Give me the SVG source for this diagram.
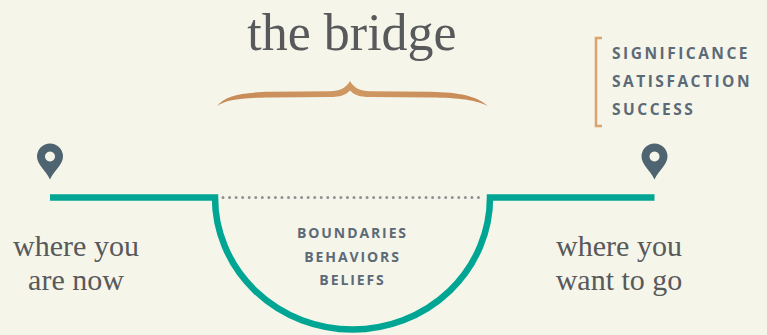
<svg xmlns="http://www.w3.org/2000/svg" width="767" height="335" viewBox="0 0 767 335">
<defs>
<style>
.title{font-family:"Liberation Serif","Times New Roman",serif;fill:#58595b;}
.place{font-family:"Liberation Serif","Times New Roman",serif;font-size:30px;fill:#58595b;text-anchor:middle;}
.caps{font-family:"Open Sans",Lato,sans-serif;font-weight:700;fill:#5c6a77;}
.pin{fill:#4e6470;fill-rule:evenodd;}
.road{fill:none;stroke:#00a693;stroke-width:6.5;stroke-linejoin:miter;}
.dots{fill:none;stroke:#8f9194;stroke-width:3;stroke-linecap:round;stroke-dasharray:0 6.55;}
</style>
<linearGradient id="braceGrad" x1="0" y1="0" x2="1" y2="0">
<stop offset="0" stop-color="#c88a57"/>
<stop offset="0.5" stop-color="#cf9863"/>
<stop offset="1" stop-color="#c88a57"/>
</linearGradient>
<path id="pinShape" d="M0,23 C-4,14 -13,8 -13,0 A13,13 0 1 1 13,0 C13,8 4,14 0,23 Z M0,-5 A5,5 0 1 0 0.01,-5 Z"/>
</defs>
<rect width="767" height="335" fill="#f5f5ea"/>

<g id="title">
<text class="title" x="352" y="50" font-size="52" text-anchor="middle">the bridge</text>
</g>

<g id="brace">
<path fill="url(#braceGrad)" d="M217,106 C225,96 240,92.5 270,91.8 L330,91.3 C340,91 346,88 350,81 C354,88 360,91 370,91.3 L430,91.8 C460,92.5 476,96 488,106 C476,100 460,97.8 430,97.5 L370,97 C360,97 354,95 350,90.5 C346,95 340,97 330,97 L270,97.5 C240,97.8 226,100 217,106 Z"/>
</g>

<g id="outcomes">
<path d="M602,38 H596 V126 H602" fill="none" stroke="#dba36d" stroke-width="2.5"/>
<text class="caps" x="612" y="59.3" font-size="15.5" letter-spacing="2.5">SIGNIFICANCE</text>
<text class="caps" x="612" y="87" font-size="15.5" letter-spacing="2.5">SATISFACTION</text>
<text class="caps" x="612" y="115" font-size="15.5" letter-spacing="2.5">SUCCESS</text>
</g>

<g id="connectors">
<path class="road" d="M50,197.5 H215 A137.5,132 0 0 0 490,197.5 H654.5"/>
<path class="dots" d="M223,197.5 H483"/>
</g>

<g id="start">
<use href="#pinShape" class="pin" x="50" y="156.5"/>
<text class="place" x="76" y="255.7">where you</text>
<text class="place" x="76" y="290">are now</text>
</g>

<g id="goal">
<use href="#pinShape" class="pin" x="654.5" y="156.5"/>
<text class="place" x="619" y="255.7">where you</text>
<text class="place" x="619" y="290">want to go</text>
</g>

<g id="bridge-content">
<text class="caps" x="352.5" y="237.5" font-size="14" letter-spacing="1.9" text-anchor="middle">BOUNDARIES</text>
<text class="caps" x="352.5" y="261.5" font-size="14" letter-spacing="1.9" text-anchor="middle">BEHAVIORS</text>
<text class="caps" x="352.5" y="285.3" font-size="14" letter-spacing="1.9" text-anchor="middle">BELIEFS</text>
</g>
</svg>
